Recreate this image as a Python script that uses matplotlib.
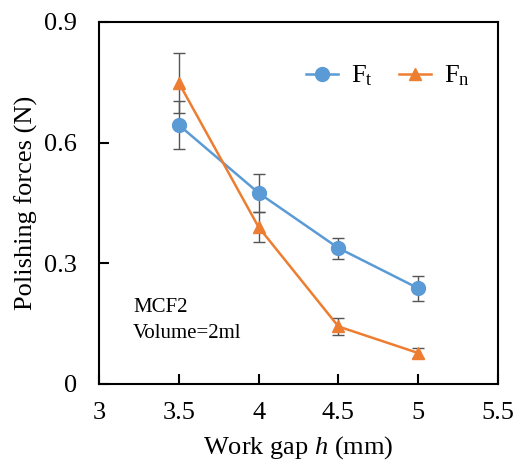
import numpy as np
import matplotlib
matplotlib.use('Agg')
from matplotlib import pyplot as plt

plt.rcParams['font.family'] = ['Liberation Serif', 'DejaVu Serif']
plt.rcParams['mathtext.fontset'] = 'custom'
plt.rcParams['mathtext.rm'] = 'Liberation Serif'
plt.rcParams['mathtext.it'] = 'Liberation Serif:italic'

# data
gap = [3.5, 4.0, 4.5, 5.0]
ft = [0.644, 0.475, 0.338, 0.238]
ft_err = [0.060, 0.047, 0.026, 0.031]
fn = [0.749, 0.390, 0.143, 0.077]
fn_err = [0.075, 0.037, 0.022, 0.012]

blue = '#5B9BD5'
orange = '#ED7D31'

fig = plt.figure(figsize=(5.17, 4.75), dpi=100)
ax = fig.add_axes([99/517, 1 - 384/475, 399/517, 362/475])

ax.errorbar(gap, ft, yerr=ft_err, color=blue, lw=1.8, marker='o', ms=10,
            ecolor='#555555', elinewidth=1, capsize=4, capthick=1,
            label='F$_\\mathrm{t}$', zorder=3)
ax.errorbar(gap, fn, yerr=fn_err, color=orange, lw=1.8, marker='^', ms=9,
            ecolor='#555555', elinewidth=1, capsize=4, capthick=1,
            label='F$_\\mathrm{n}$', zorder=3)

ax.set_xlim(3, 5.5)
ax.set_ylim(0, 0.9)
ax.set_xticks([3, 3.5, 4, 4.5, 5, 5.5])
ax.set_xticklabels(['3', '3.5', '4', '4.5', '5', '5.5'])
ax.set_yticks([0, 0.3, 0.6, 0.9])
ax.set_yticklabels(['0', '0.3', '0.6', '0.9'])
ax.tick_params(direction='in', length=7, width=1.5, labelsize=19)
ax.tick_params(axis='x', pad=13)
ax.tick_params(axis='y', pad=16)
for s in ax.spines.values():
    s.set_linewidth(1.5)

ax.set_xlabel('Work gap $h$ (mm)', fontsize=19, labelpad=7)
ax.set_ylabel('Polishing forces (N)', fontsize=19, labelpad=4)

ax.text(0.085, 0.175, 'MCF2\nVolume=2ml', transform=ax.transAxes,
        fontsize=15, linespacing=1.5, va='center', ha='left')

handles, labels = ax.get_legend_handles_labels()
handles = [h[0] for h in handles]
ax.legend(handles, labels, loc='upper right', bbox_to_anchor=(0.99, 0.95),
          ncol=2, frameon=False, fontsize=19, handlelength=1.2,
          columnspacing=1.0, handletextpad=0.5)

fig.savefig('out.png', dpi=100)
